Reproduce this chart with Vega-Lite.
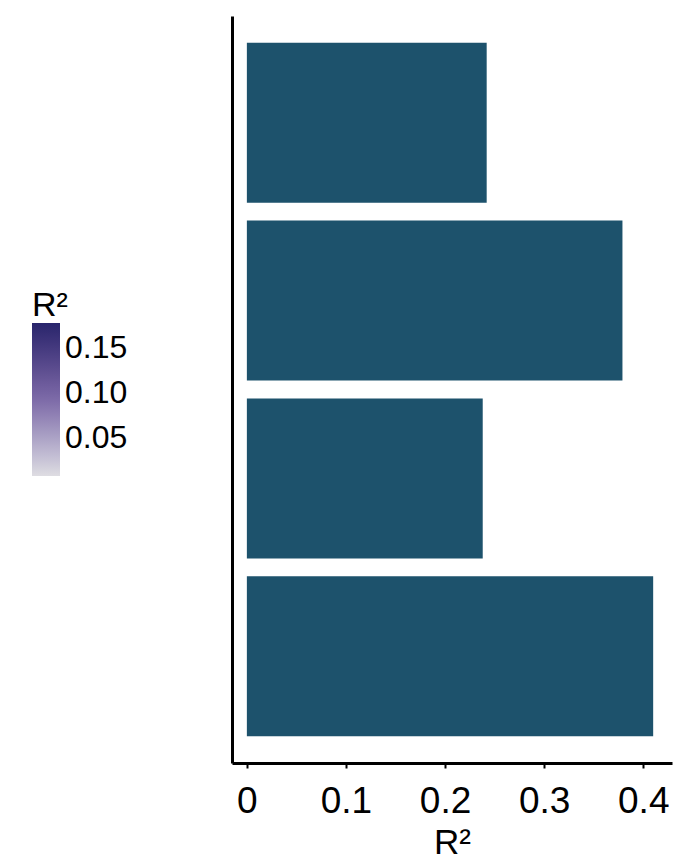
{
  "$schema": "https://vega.github.io/schema/vega-lite/v6.json",
  "autosize": "none",
  "width": 440,
  "height": 747,
  "padding": {"left": 232, "top": 16, "right": 17, "bottom": 100},
  "background": "white",
  "config": {
    "font": "Liberation Sans",
    "view": {"stroke": null}
  },
  "data": {
    "values": [
      {"group": "g1", "r2": 0.242, "shade": 0.06},
      {"group": "g2", "r2": 0.379, "shade": 0.15},
      {"group": "g3", "r2": 0.238, "shade": 0.05},
      {"group": "g4", "r2": 0.41, "shade": 0.17}
    ]
  },
  "encoding": {
    "y": {
      "field": "group",
      "type": "nominal",
      "sort": null,
      "scale": {"paddingInner": 0.1, "paddingOuter": 0.15},
      "axis": {
        "title": null,
        "labels": false,
        "ticks": false,
        "domainColor": "black",
        "domainWidth": 3
      }
    },
    "x": {
      "field": "r2",
      "type": "quantitative",
      "scale": {"domain": [-0.015, 0.429], "nice": false, "zero": false},
      "axis": {
        "title": "R²",
        "values": [0, 0.1, 0.2, 0.3, 0.4],
        "format": "~g",
        "grid": false,
        "domainColor": "black",
        "domainWidth": 3,
        "tickColor": "black",
        "tickWidth": 2,
        "tickSize": 5,
        "labelFontSize": 37,
        "labelColor": "black",
        "labelPadding": 15,
        "titleFontSize": 35,
        "titleFontWeight": "normal",
        "titleColor": "black",
        "titlePadding": 6
      }
    }
  },
  "layer": [
    {
      "mark": {"type": "bar", "color": "#1d526c"},
      "encoding": {
        "x2": {"datum": 0}
      }
    },
    {
      "mark": {"type": "point", "opacity": 0},
      "encoding": {
        "color": {
          "field": "shade",
          "type": "quantitative",
          "scale": {
            "domain": [0.008, 0.178],
            "range": ["#dedde2", "#7d6aa8", "#28256c"],
            "clamp": true
          },
          "legend": {
            "title": "R²",
            "orient": "none",
            "legendX": -200,
            "legendY": 273,
            "direction": "vertical",
            "values": [0.05, 0.1, 0.15],
            "format": ".2f",
            "gradientLength": 153,
            "gradientThickness": 28,
            "gradientStrokeWidth": 0,
            "titleFontSize": 34,
            "titleFontWeight": "normal",
            "titleColor": "black",
            "titlePadding": 0,
            "labelFontSize": 32,
            "labelColor": "black",
            "labelOffset": 5,
            "labelOverlap": false
          }
        }
      }
    }
  ]
}
